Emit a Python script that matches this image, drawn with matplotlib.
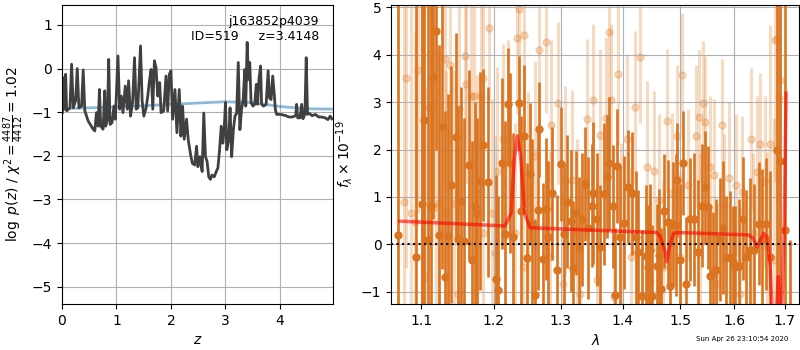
import matplotlib
matplotlib.use('Agg')
import matplotlib.pyplot as plt
import numpy as np

# p(z) curve
zgrid = [0.006, 0.024, 0.043, 0.067, 0.085, 0.146, 0.176, 0.207, 0.249, 0.280,
         0.310, 0.359, 0.389, 0.419, 0.480, 0.571, 0.602, 0.632, 0.663, 0.687,
         0.711, 0.754, 0.784, 0.802, 0.833, 0.857, 0.881, 0.918, 0.954, 0.979,
         1.027, 1.058, 1.088, 1.119, 1.161, 1.198, 1.222, 1.258, 1.295, 1.331,
         1.362, 1.392, 1.441, 1.471, 1.502, 1.544, 1.574, 1.605, 1.635, 1.666,
         1.696, 1.726, 1.757, 1.793, 1.818, 1.866, 1.909, 1.939, 1.970, 2.000,
         2.030, 2.073, 2.109, 2.152, 2.182, 2.213, 2.243, 2.286, 2.316, 2.361,
         2.392, 2.434, 2.470, 2.494, 2.530, 2.572, 2.602, 2.633, 2.663, 2.693,
         2.723, 2.753, 2.795, 2.831, 2.861, 2.892, 2.922, 2.952, 2.976, 3.000,
         3.024, 3.060, 3.084, 3.114, 3.145, 3.175, 3.205, 3.235, 3.265, 3.295,
         3.325, 3.355, 3.373, 3.398, 3.422, 3.446, 3.470, 3.506, 3.536, 3.566,
         3.590, 3.614, 3.645, 3.663, 3.699, 3.747, 3.783, 3.807, 3.837, 3.867,
         3.898, 3.916, 3.940, 4.018, 4.108, 4.169, 4.229, 4.289, 4.307, 4.325,
         4.367, 4.398, 4.422, 4.458, 4.482, 4.506, 4.542, 4.590, 4.651, 4.711,
         4.771, 4.831, 4.880, 4.922, 4.952]
logpz = [-1.01, -0.21, -0.93, -0.13, -0.97, -0.90, 0.10, -0.90, -0.74, 0.00,
         -0.90, -0.86, -0.03, -0.97, -1.20, -1.39, -1.43, -1.01, -1.32, -0.48,
         -1.32, -1.39, -0.51, -1.32, -1.16, 0.21, -1.28, -1.24, -0.86, -1.16,
         0.29, -0.93, -0.63, -1.01, -0.40, -0.93, -0.28, -1.09, -0.78, 0.25,
         -0.93, -0.90, 0.52, -0.74, -1.09, -0.90, -0.63, -0.28, -0.02, -0.93,
         0.18, 0.02, -0.63, -0.32, -1.01, -0.97, -0.17, -0.97, -0.13, -0.05,
         -1.16, -0.48, -1.47, -0.48, -1.55, -0.86, -1.62, -1.16, -1.62, -1.98,
         -2.17, -2.21, -1.78, -2.25, -2.02, -2.36, -1.02, -2.02, -2.13, -2.48,
         -2.54, -2.44, -2.48, -2.36, -2.28, -1.86, -1.32, -1.71, -1.40, -0.78,
         -1.86, -1.63, -0.90, -2.02, -1.40, -1.09, -1.02, 0.14, -1.40, -0.94,
         -0.71, -0.02, -0.86, 0.60, -0.25, 0.14, -0.78, -0.86, -0.82, -0.36,
         -0.82, -0.25, 0.06, -0.82, -0.86, -0.82, -0.05, -0.67, -0.71, -0.17,
         -0.63, -0.94, -1.05, -1.05, -1.08, -1.11, -1.11, -1.08, -0.82, -1.13,
         -1.13, -0.82, -1.15, -1.05, 0.25, -1.05, -1.03, -1.08, -1.05, -1.11,
         -1.11, -1.13, -1.17, -1.09, -1.15]

# prior curve
zprior = [0.0, 0.5, 1.0, 1.5, 2.0, 2.5, 3.0, 3.5, 4.0, 4.5, 5.0]
logprior = [-0.92, -0.90, -0.88, -0.85, -0.82, -0.79, -0.76, -0.78, -0.87, -0.92, -0.93]

# spectrum, first set (dark)
wave_a = [1.070, 1.093, 1.101, 1.104, 1.109, 1.113, 1.116, 1.119, 1.124, 1.127,
          1.131, 1.136, 1.140, 1.147, 1.150, 1.154, 1.158, 1.165, 1.169, 1.173,
          1.176, 1.180, 1.184, 1.192, 1.203, 1.206, 1.211, 1.216, 1.221, 1.224,
          1.228, 1.237, 1.239, 1.244, 1.249, 1.253, 1.256, 1.260, 1.265, 1.267,
          1.272, 1.277, 1.281, 1.286, 1.294, 1.300, 1.305, 1.310, 1.316, 1.319,
          1.324, 1.329, 1.334, 1.339, 1.343, 1.349, 1.352, 1.358, 1.363, 1.369,
          1.374, 1.378, 1.384, 1.387, 1.390, 1.395, 1.403, 1.409, 1.416, 1.422,
          1.426, 1.433, 1.439, 1.443, 1.447, 1.451, 1.459, 1.462, 1.466, 1.472,
          1.478, 1.482, 1.488, 1.492, 1.495, 1.499, 1.506, 1.511, 1.517, 1.525,
          1.533, 1.540, 1.545, 1.550, 1.554, 1.560, 1.566, 1.573, 1.579, 1.585,
          1.592, 1.598, 1.601, 1.609, 1.617, 1.624, 1.631, 1.639, 1.648, 1.655,
          1.662, 1.671, 1.684, 1.690, 1.700, 1.712]
flux_a = [0.19, -0.27, 0.85, 2.63, 0.10, 0.81, 3.53, 4.49, 0.20, 2.48,
          -0.68, 0.18, 1.26, 2.26, 0.11, 0.92, 0.07, 1.68, -0.32, 0.80,
          0.66, 1.33, 2.10, 1.31, -0.74, -0.97, 1.71, 0.21, 2.95, 1.71,
          0.15, 2.98, 0.71, 2.28, -0.28, 1.48, 0.43, -1.07, 0.73, 2.43,
          -0.30, 0.74, 0.15, 1.08, -0.55, 1.70, 0.21, 0.90, 0.49, -0.49,
          0.66, -0.08, 0.53, 1.28, 0.34, 0.82, 1.08, 0.53, -0.05, 1.06,
          1.43, 1.71, 0.80, -1.06, 1.66, 0.15, 0.46, 1.22, 1.08, 0.15,
          -0.16, -1.09, -0.24, -0.47, -0.12, -1.09, -0.45, -0.23, -0.95, 0.71,
          0.47, -0.87, 0.43, 0.41, 1.36, -0.32, 1.71, -0.83, 0.53, 0.53,
          -0.15, 0.82, 1.20, 0.78, -0.66, -0.61, -0.54, 0.11, 0.35, -0.28,
          -0.27, -0.38, -0.48, -0.45, 0.54, -0.26, -0.11, -0.12, 0.44, 0.09,
          0.43, -0.26, 2.00, 1.76, 0.30, -1.60]
err_a = [7.0, 6.0, 5.0, 4.0, 5.5, 4.5, 3.0, 2.5, 4.0, 3.0,
         3.5, 3.0, 2.5, 2.2, 2.8, 2.4, 2.6, 2.0, 2.5, 2.2,
         2.0, 2.3, 1.6, 2.0, 2.2, 2.0, 1.8, 2.4, 1.2, 1.9,
         2.2, 1.0, 2.0, 1.5, 2.0, 1.5, 1.8, 1.6, 1.7, 1.0,
         1.6, 1.5, 1.6, 1.4, 1.6, 1.2, 1.5, 1.4, 1.5, 1.4,
         1.3, 1.5, 1.4, 1.2, 1.5, 1.3, 1.5, 1.4, 1.3, 1.5,
         1.3, 1.4, 1.3, 1.4, 1.2, 1.5, 1.4, 1.2, 1.3, 1.4,
         1.3, 1.4, 1.5, 1.3, 1.4, 1.5, 1.3, 1.4, 1.3, 1.2,
         1.3, 1.4, 1.3, 1.5, 1.2, 1.6, 1.1, 1.4, 1.3, 1.4,
         1.5, 1.3, 1.2, 1.3, 1.4, 1.3, 1.5, 1.3, 1.4, 1.3,
         1.4, 1.2, 1.3, 1.4, 1.3, 1.4, 1.5, 1.4, 1.3, 1.5,
         1.4, 1.8, 5.0, 6.0, 8.0, 1.7]

# spectrum, second set (light)
wave_b = [1.077, 1.080, 1.086, 1.092, 1.096, 1.105, 1.110, 1.114, 1.120, 1.124,
          1.131, 1.133, 1.138, 1.144, 1.149, 1.151, 1.159, 1.161, 1.168, 1.172,
          1.176, 1.182, 1.184, 1.185, 1.193, 1.197, 1.201, 1.205, 1.213, 1.221,
          1.230, 1.233, 1.236, 1.242, 1.244, 1.250, 1.260, 1.267, 1.278, 1.283,
          1.285, 1.296, 1.303, 1.306, 1.318, 1.326, 1.331, 1.342, 1.352, 1.357,
          1.362, 1.372, 1.377, 1.380, 1.385, 1.393, 1.397, 1.407, 1.415, 1.421,
          1.430, 1.442, 1.447, 1.453, 1.463, 1.470, 1.476, 1.485, 1.495, 1.500,
          1.504, 1.515, 1.528, 1.534, 1.537, 1.542, 1.545, 1.554, 1.562, 1.568,
          1.577, 1.581, 1.590, 1.603, 1.611, 1.615, 1.633, 1.637, 1.644, 1.651,
          1.660, 1.665, 1.671, 1.678, 1.680, 1.684, 1.688, 1.691]
flux_b = [0.90, 3.51, 0.66, 0.48, 3.67, -0.68, 2.90, 2.86, 0.78, 0.87,
          3.90, 0.66, 3.79, 0.87, -1.04, 2.86, 3.97, 3.39, 3.12, 3.12,
          1.08, 3.12, 0.23, 3.51, 4.57, 0.67, -0.19, 1.54, 2.22, 2.22,
          0.25, 4.36, 4.96, -0.47, 4.41, 1.11, 1.87, 4.09, 4.27, -0.26,
          2.52, 2.98, -0.83, 1.33, 1.35, 0.23, -1.04, 2.64, 3.05, -0.75,
          2.31, 2.67, 4.48, 3.05, -1.11, 3.60, 0.23, 2.22, -0.26, 2.89,
          3.96, 1.64, -0.75, 1.54, 0.94, -0.47, 2.61, 1.08, 2.29, -0.26,
          3.58, 1.26, 2.29, 2.69, 0.23, 2.98, 2.58, 1.63, 1.47, -0.83,
          2.51, 0.83, 1.40, 1.26, -1.04, 1.11, 2.22, 0.23, 1.52, 2.12,
          1.33, -0.05, 2.12, -0.33, 4.32, 4.34, 3.08, 3.46]
err_b = [5.0, 4.0, 4.5, 4.0, 3.0, 4.0, 3.0, 2.8, 3.5, 3.2,
         2.5, 3.0, 2.4, 2.8, 3.0, 2.2, 2.0, 2.1, 2.2, 2.0,
         2.5, 2.0, 2.6, 1.8, 1.6, 2.4, 2.5, 2.2, 2.0, 2.1,
         2.3, 1.6, 1.5, 2.4, 1.6, 2.1, 2.0, 1.6, 1.5, 2.2,
         1.8, 1.7, 2.0, 2.0, 1.9, 2.0, 2.1, 1.7, 1.6, 2.0,
         1.8, 1.7, 1.4, 1.6, 2.0, 1.5, 1.9, 1.8, 1.9, 1.6,
         1.4, 1.8, 1.9, 1.7, 1.8, 1.8, 1.5, 1.7, 1.5, 1.8,
         1.3, 1.6, 1.5, 1.4, 1.7, 1.3, 1.4, 1.5, 1.6, 1.7,
         1.4, 1.5, 1.6, 1.5, 1.8, 1.6, 1.5, 1.7, 1.6, 1.5,
         1.8, 2.0, 2.5, 3.0, 3.0, 3.5, 4.0, 4.5]

# best-fit model
wave_m = [1.072, 1.216, 1.225, 1.230, 1.234, 1.239, 1.245, 1.253, 1.459, 1.465,
          1.474, 1.476, 1.481, 1.488, 1.497, 1.628, 1.637, 1.645, 1.651, 1.658,
          1.665, 1.671, 1.677, 1.682, 1.687, 1.693, 1.699, 1.703]
flux_m = [0.49, 0.39, 0.66, 1.85, 2.29, 1.85, 0.66, 0.35, 0.25, 0.16,
          -0.19, -0.37, -0.05, 0.23, 0.25, 0.20, 0.13, -0.05, 0.09, 0.23,
          0.16, -0.47, -2.0, -1.8, -0.68, -1.8, 0.23, 3.19]

fig = plt.figure(figsize=(8, 3.5), dpi=100)

ax = fig.add_axes([0.0775, 0.131, 0.3385, 0.855])
ax.plot(zprior, logprior, color='tab:blue', alpha=0.5, lw=2)
ax.plot(zgrid, logpz, color='0.25', lw=2)
ax.set_xlim(0, 4.97)
ax.set_ylim(-5.4, 1.46)
ax.set_xticks([0, 1, 2, 3, 4])
ax.grid()
ax.set_xlabel('$z$')
ax.set_ylabel(r'$\log\ p(z)$ / $\chi^2=\frac{4487}{4412}=1.02$')
ax.text(0.95, 0.965, 'j163852p4039\nID=519     z=3.4148', transform=ax.transAxes,
        ha='right', va='top', fontsize=9)

ax2 = fig.add_axes([0.489, 0.131, 0.51, 0.855])
ax2.errorbar(wave_b, flux_b, err_b, fmt='o', ms=5, elinewidth=2.2,
             color='#e07b24', alpha=0.28, zorder=1)
ax2.errorbar(wave_a, flux_a, err_a, fmt='o', ms=5, elinewidth=1.9,
             color='#da7420', alpha=1.0, zorder=2)
ax2.plot(wave_m, flux_m, color='r', alpha=0.6, lw=2.5, zorder=3)
ax2.axhline(0, color='k', ls=':', lw=1.5, zorder=4)
ax2.set_xscale('log')
ax2.set_xlim(1.061, 1.730)
ax2.set_ylim(-1.26, 5.05)
xt = [1.1, 1.2, 1.3, 1.4, 1.5, 1.6, 1.7]
ax2.set_xticks(xt)
ax2.set_xticklabels(['%.1f' % v for v in xt])
ax2.xaxis.set_minor_locator(matplotlib.ticker.NullLocator())
ax2.grid()
ax2.set_xlabel(r'$\lambda$')
ax2.set_ylabel(r'$f_\lambda\times10^{-19}$')

fig.text(0.985, 0.022, 'Sun Apr 26 23:10:54 2020', ha='right', va='bottom', fontsize=5)

fig.savefig('out.png')
